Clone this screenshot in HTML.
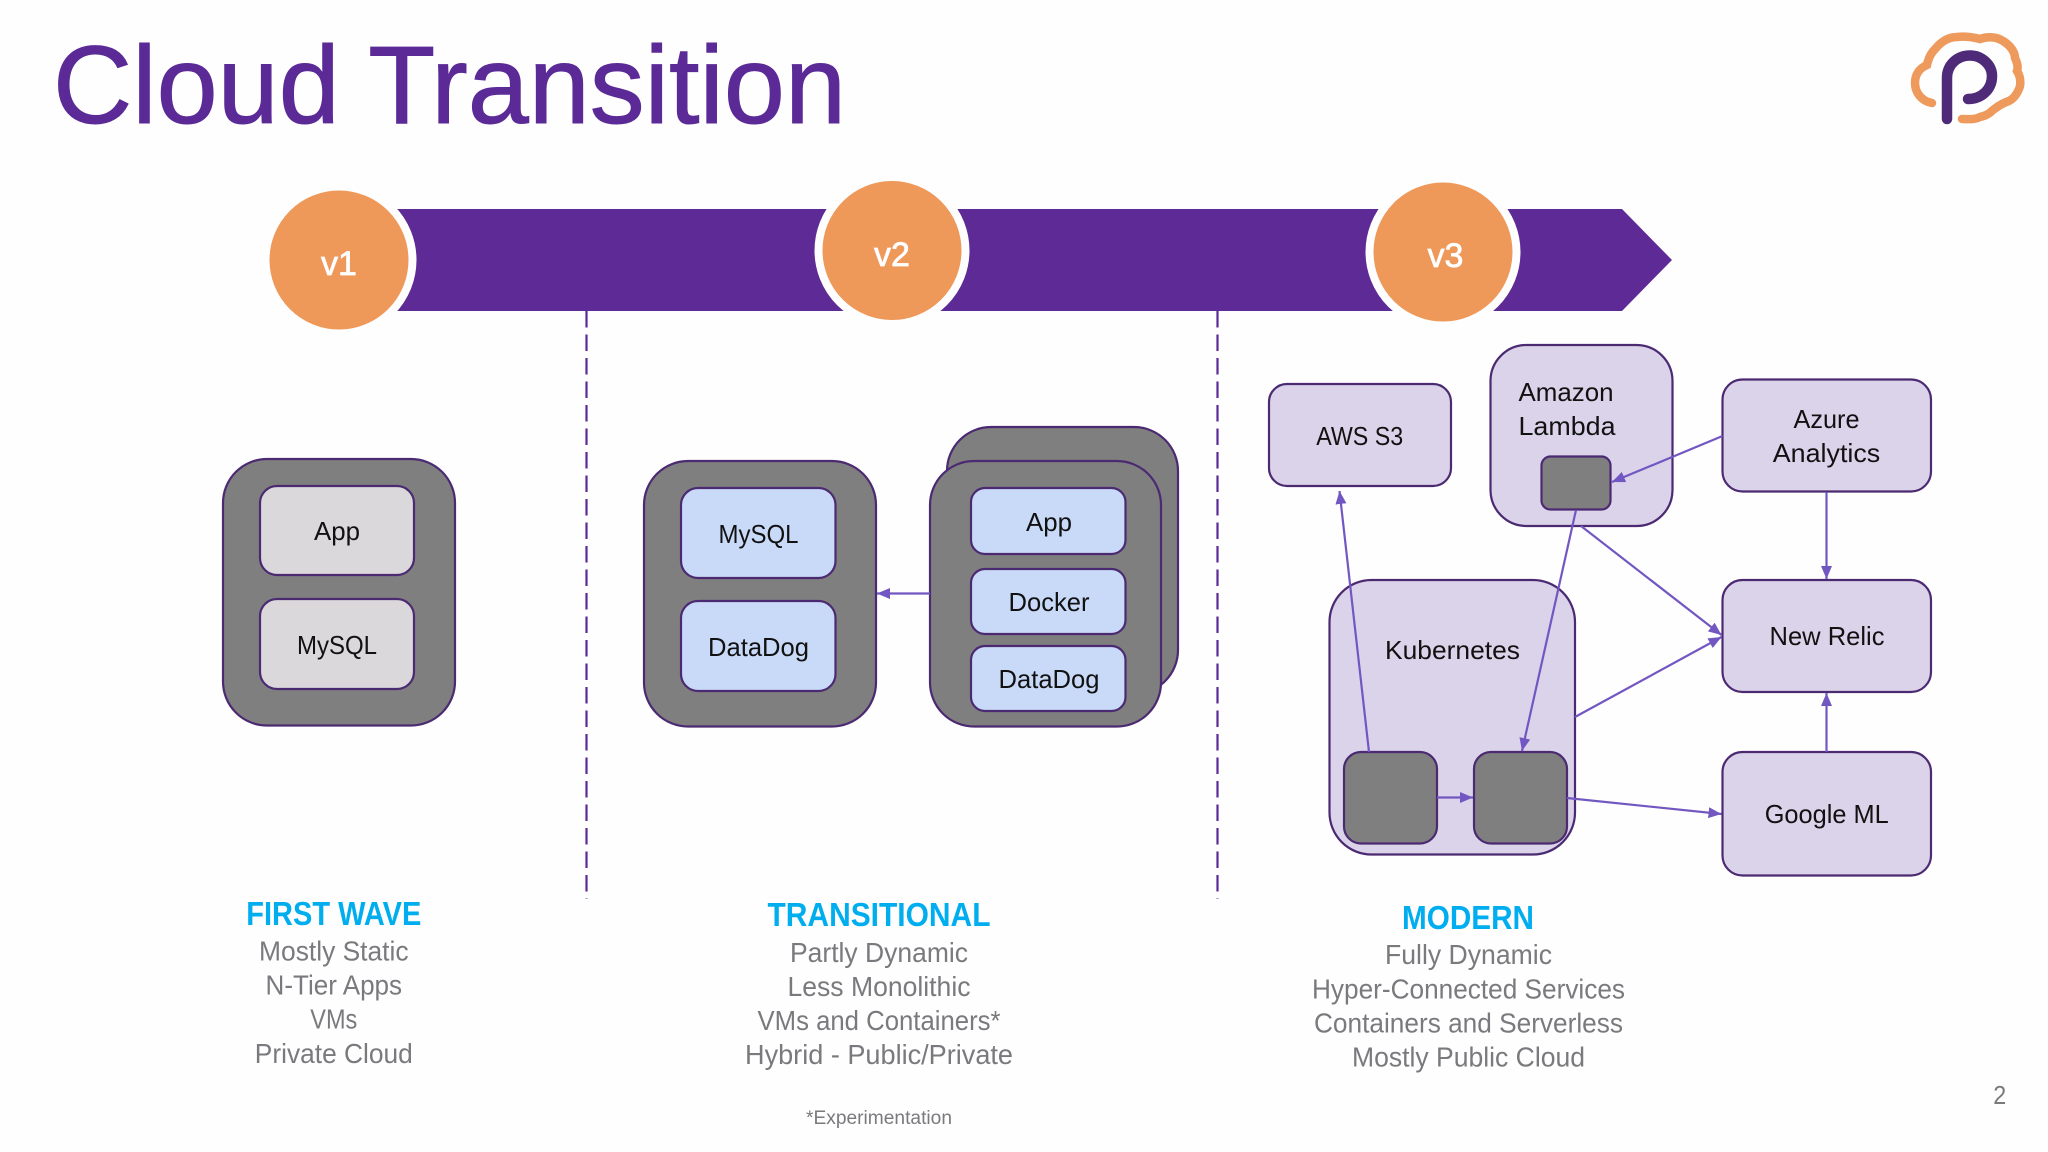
<!DOCTYPE html>
<html>
<head>
<meta charset="utf-8">
<style>
html,body{margin:0;padding:0;background:#fefefe;width:2048px;height:1152px;overflow:hidden}
svg{display:block}
text{font-family:"Liberation Sans",sans-serif}
.l{font-size:26px;fill:#111;text-anchor:middle}
.s{font-size:28px;fill:#7a7a7e;text-anchor:middle}
.h{font-size:33px;font-weight:bold;fill:#00aeef;text-anchor:middle}
.b{stroke:#4b2a72;stroke-width:2.2}
.g{fill:#7f7f7f}
.w{fill:#dad8da}
.u{fill:#c9daf8}
.p{fill:#dbd3ea}
.a{stroke:#7257c2;stroke-width:2.2;fill:none;marker-end:url(#ah)}
.v{font-size:34px;fill:#fff;stroke:#fff;stroke-width:.7;text-anchor:middle}
</style>
</head>
<body>
<svg width="2048" height="1152" viewBox="0 0 2048 1152" xmlns="http://www.w3.org/2000/svg">
<defs>
<marker id="ah" markerUnits="userSpaceOnUse" markerWidth="14" markerHeight="12" refX="13" refY="5.5" orient="auto">
<path d="M0 0L13 5.5L0 11Z" fill="#7257c2"/>
</marker>
</defs>
<rect width="2048" height="1152" fill="#fefefe"/>

<text x="53" y="123" font-size="110" fill="#5b2a96" stroke="#5b2a96" stroke-width="1" textLength="793" lengthAdjust="spacingAndGlyphs">Cloud Transition</text>

<!-- logo -->
<path d="M1932 103C1921 101 1915 92 1915 83C1915 74 1920 68 1927 65C1929 56 1932 52 1936 48C1942 41 1949 37 1957 37C1965 36 1972 37 1980 39C1988 36 1997 37 2003 41C2010 45 2015 52 2015 58C2018 64 2018 68 2017 71C2021 77 2021 85 2019 89C2016 96 2013 99 2009 101C2002 103 1997 107 1993 110C1988 115 1984 116 1980 117C1974 120 1968 119 1962 119" fill="none" stroke="#ee9a5c" stroke-width="8.5" stroke-linecap="round"/>
<path d="M1947 119V78C1947 64 1958 55.5 1970 55.5C1982 55.5 1992 65 1992 76C1992 89 1982 99 1968 99" fill="none" stroke="#4f2a78" stroke-width="10.5" stroke-linecap="round"/>

<!-- timeline -->
<line x1="586.5" y1="311" x2="586.5" y2="899" stroke="#5b2a96" stroke-width="2.2" stroke-dasharray="16.5 7"/>
<line x1="1217.500" y1="311" x2="1217.500" y2="899" stroke="#5b2a96" stroke-width="2.2" stroke-dasharray="16.5 7"/>
<polygon points="370,209 1622,209 1672,260 1622,311 370,311" fill="#5e2a96"/>
<circle cx="339" cy="260" r="73.5" fill="#ee985a" stroke="#fefefe" stroke-width="8"/>
<circle cx="892" cy="250.5" r="73.5" fill="#ee985a" stroke="#fefefe" stroke-width="8"/>
<circle cx="1443" cy="252" r="73.5" fill="#ee985a" stroke="#fefefe" stroke-width="8"/>
<text class="v" x="339" y="275">v1</text>
<text class="v" x="892" y="266">v2</text>
<text class="v" x="1445.500" y="267">v3</text>

<!-- first wave -->
<rect class="b g" x="223" y="459" width="232" height="266.500" rx="44"/>
<rect class="b w" x="260" y="486" width="154" height="89" rx="17"/>
<rect class="b w" x="260" y="599" width="154" height="90" rx="17"/>
<text class="l" x="337" y="540" textLength="46" lengthAdjust="spacingAndGlyphs">App</text>
<text class="l" x="337" y="654" textLength="80" lengthAdjust="spacingAndGlyphs">MySQL</text>

<!-- transitional -->
<rect class="b g" x="644" y="461" width="232" height="265.500" rx="44"/>
<rect class="b u" x="681" y="488" width="154.500" height="90" rx="17"/>
<rect class="b u" x="681" y="601" width="154.500" height="90" rx="17"/>
<text class="l" x="758.500" y="543" textLength="80" lengthAdjust="spacingAndGlyphs">MySQL</text>
<text class="l" x="758.500" y="656" textLength="101" lengthAdjust="spacingAndGlyphs">DataDog</text>
<rect class="b g" x="947" y="427" width="231" height="267" rx="44"/>
<rect class="b g" x="930" y="461" width="231" height="265.500" rx="44"/>
<rect class="b u" x="971" y="488" width="154.500" height="66" rx="14"/>
<rect class="b u" x="971" y="569" width="154.500" height="65" rx="14"/>
<rect class="b u" x="971" y="646" width="154.500" height="65" rx="14"/>
<text class="l" x="1049" y="531" textLength="46" lengthAdjust="spacingAndGlyphs">App</text>
<text class="l" x="1049" y="611" textLength="81" lengthAdjust="spacingAndGlyphs">Docker</text>
<text class="l" x="1049" y="688" textLength="101" lengthAdjust="spacingAndGlyphs">DataDog</text>
<line class="a" x1="930" y1="593.500" x2="877" y2="593.500"/>

<!-- modern -->
<rect class="b p" x="1269" y="384" width="182" height="102" rx="18"/>
<rect class="b p" x="1490.500" y="345" width="182" height="181" rx="36"/>
<rect class="b g" x="1541.500" y="456.500" width="69" height="53" rx="9"/>
<rect class="b p" x="1722.500" y="379.500" width="208.500" height="112" rx="20"/>
<rect class="b p" x="1722.500" y="580" width="208.500" height="112" rx="20"/>
<rect class="b p" x="1722.500" y="752" width="208.500" height="123.500" rx="20"/>
<rect class="b p" x="1329.500" y="580" width="245.500" height="274.500" rx="42"/>
<rect class="b g" x="1344" y="752" width="93" height="91.500" rx="17"/>
<rect class="b g" x="1474" y="752" width="93" height="91.500" rx="17"/>

<line class="a" x1="1369" y1="752" x2="1339.500" y2="491"/>
<line class="a" x1="1576" y1="510" x2="1522" y2="751"/>
<line class="a" x1="1722.500" y1="436" x2="1612" y2="482"/>
<line class="a" x1="1826.500" y1="492" x2="1826.500" y2="579"/>
<line class="a" x1="1581" y1="526" x2="1721.500" y2="635"/>
<line class="a" x1="1575" y1="717" x2="1721.500" y2="637"/>
<line class="a" x1="1826.500" y1="752" x2="1826.500" y2="693"/>
<line class="a" x1="1437" y1="797.500" x2="1473" y2="797.500"/>
<line class="a" x1="1567" y1="798" x2="1721.500" y2="814"/>

<text class="l" x="1359.700" y="445" textLength="87" lengthAdjust="spacingAndGlyphs">AWS S3</text>
<text class="l" x="1518.500" y="401" style="text-anchor:start" textLength="95" lengthAdjust="spacingAndGlyphs">Amazon</text>
<text class="l" x="1518.500" y="435" style="text-anchor:start" textLength="97" lengthAdjust="spacingAndGlyphs">Lambda</text>
<text class="l" x="1826.500" y="428" textLength="66" lengthAdjust="spacingAndGlyphs">Azure</text>
<text class="l" x="1826.500" y="462" textLength="107.500" lengthAdjust="spacingAndGlyphs">Analytics</text>
<text class="l" x="1452.500" y="659" textLength="135" lengthAdjust="spacingAndGlyphs">Kubernetes</text>
<text class="l" x="1827" y="645" textLength="115" lengthAdjust="spacingAndGlyphs">New Relic</text>
<text class="l" x="1826.700" y="823" textLength="124" lengthAdjust="spacingAndGlyphs">Google ML</text>

<!-- captions -->
<text class="h" x="333.800" y="925" textLength="175" lengthAdjust="spacingAndGlyphs">FIRST WAVE</text>
<text class="s" x="333.800" y="960.500" textLength="149.500" lengthAdjust="spacingAndGlyphs">Mostly Static</text>
<text class="s" x="333.800" y="994.500" textLength="136.500" lengthAdjust="spacingAndGlyphs">N-Tier Apps</text>
<text class="s" x="333.800" y="1028.500" textLength="47" lengthAdjust="spacingAndGlyphs">VMs</text>
<text class="s" x="333.800" y="1063" textLength="158" lengthAdjust="spacingAndGlyphs">Private Cloud</text>

<text class="h" x="879" y="926" textLength="223" lengthAdjust="spacingAndGlyphs">TRANSITIONAL</text>
<text class="s" x="879" y="962" textLength="178" lengthAdjust="spacingAndGlyphs">Partly Dynamic</text>
<text class="s" x="879" y="996" textLength="183" lengthAdjust="spacingAndGlyphs">Less Monolithic</text>
<text class="s" x="879" y="1030" textLength="243" lengthAdjust="spacingAndGlyphs">VMs and Containers*</text>
<text class="s" x="879" y="1064" textLength="268" lengthAdjust="spacingAndGlyphs">Hybrid - Public/Private</text>
<text x="879" y="1124" font-size="19" fill="#7a7a7e" text-anchor="middle" textLength="146" lengthAdjust="spacingAndGlyphs">*Experimentation</text>

<text class="h" x="1468" y="929" textLength="132" lengthAdjust="spacingAndGlyphs">MODERN</text>
<text class="s" x="1468.500" y="964" textLength="167" lengthAdjust="spacingAndGlyphs">Fully Dynamic</text>
<text class="s" x="1468.500" y="998.500" textLength="313" lengthAdjust="spacingAndGlyphs">Hyper-Connected Services</text>
<text class="s" x="1468.500" y="1032.500" textLength="309" lengthAdjust="spacingAndGlyphs">Containers and Serverless</text>
<text class="s" x="1468.500" y="1066.500" textLength="233" lengthAdjust="spacingAndGlyphs">Mostly Public Cloud</text>

<text x="1999.700" y="1104" font-size="26" fill="#7a7a7e" text-anchor="middle" textLength="13" lengthAdjust="spacingAndGlyphs">2</text>
</svg>
</body>
</html>
